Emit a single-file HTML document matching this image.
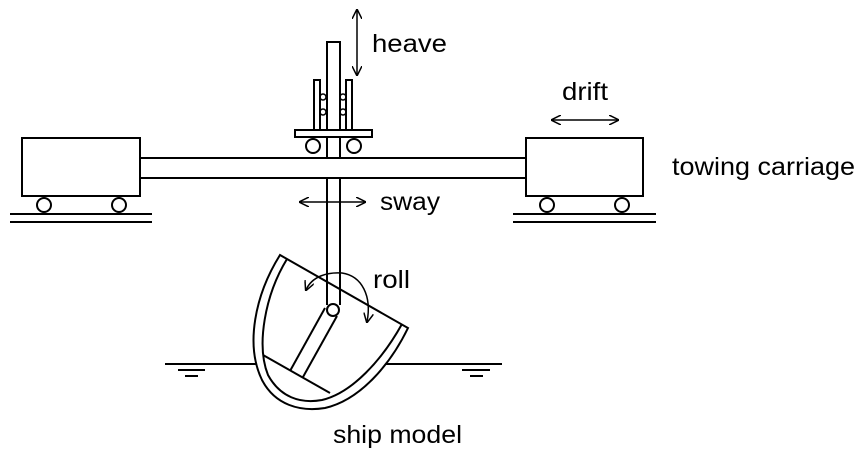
<!DOCTYPE html>
<html><head><style>
html,body{margin:0;padding:0;background:#fff;}
svg{display:block;}
text{font-family:"Liberation Sans",Arial,sans-serif;font-size:25px;fill:#000;}
</style></head><body>
<svg width="866" height="457" viewBox="0 0 866 457" xmlns="http://www.w3.org/2000/svg">
<defs>
<marker id="ah" viewBox="0 0 10 10" refX="9" refY="5" markerWidth="10" markerHeight="10" markerUnits="userSpaceOnUse" orient="auto-start-reverse">
<path d="M0,0 L10,5 L0,10" fill="none" stroke="#000" stroke-width="1.5"/>
</marker>
</defs>
<g fill="none" stroke="#000" stroke-width="2">
<!-- beam -->
<line x1="140" y1="158" x2="527" y2="158"/>
<line x1="140" y1="178" x2="527" y2="178"/>
<!-- left cart -->
<rect x="22" y="138" width="118" height="58" fill="#fff"/>
<circle cx="44" cy="205" r="7"/><circle cx="119" cy="205" r="7"/>
<line x1="10" y1="214" x2="152" y2="214"/><line x1="10" y1="222" x2="152" y2="222"/>
<!-- right cart -->
<rect x="526" y="138" width="117" height="58" fill="#fff"/>
<circle cx="547" cy="205" r="7"/><circle cx="622" cy="205" r="7"/>
<line x1="513" y1="214" x2="656" y2="214"/><line x1="513" y1="222" x2="656" y2="222"/>
<!-- mast upper -->
<rect x="327" y="42" width="13" height="116" fill="#fff"/>
<rect x="314" y="80" width="6" height="50"/>
<rect x="346" y="80" width="6" height="50"/>
<circle cx="323" cy="97" r="3" stroke-width="1.5"/><circle cx="323" cy="112" r="3" stroke-width="1.5"/>
<circle cx="343" cy="97" r="3" stroke-width="1.5"/><circle cx="343" cy="112" r="3" stroke-width="1.5"/>
<rect x="295" y="130" width="77" height="7" fill="#fff"/>
<circle cx="313" cy="146" r="7"/><circle cx="354" cy="146" r="7"/>
<!-- water -->
<line x1="165" y1="364" x2="256" y2="364"/>
<line x1="385" y1="364" x2="502" y2="364"/>
<line x1="178" y1="370" x2="205" y2="370"/><line x1="185" y1="376" x2="198" y2="376"/>
<line x1="462" y1="370" x2="490" y2="370"/><line x1="470" y1="376" x2="483" y2="376"/>
<!-- hull -->
<path d="M280,255 C255,295 245,345 262,380 C275,405 300,412 325,408 C360,400 390,365 408,328 L280,255 Z" fill="#fff"/>
<path d="M287,259 C265,295 256,345 268,375 C280,397 300,404 322,400 C352,393 382,360 402,324"/>
<line x1="263" y1="355" x2="330" y2="393"/>
<line x1="325" y1="308" x2="290" y2="371"/>
<line x1="337" y1="316" x2="303" y2="377"/>
<!-- mast lower -->
<line x1="327" y1="178" x2="327" y2="305"/>
<line x1="340" y1="178" x2="340" y2="305"/>
<circle cx="333" cy="310" r="6" fill="#fff"/>
<!-- arrows -->
<line x1="357" y1="10" x2="357" y2="75" marker-start="url(#ah)" marker-end="url(#ah)" stroke-width="1.5"/>
<line x1="300" y1="202" x2="365" y2="202" marker-start="url(#ah)" marker-end="url(#ah)" stroke-width="1.5"/>
<line x1="552" y1="120" x2="618" y2="120" marker-start="url(#ah)" marker-end="url(#ah)" stroke-width="1.5"/>
<path d="M306,290 C312,276 328,272 342,273 C362,276 372,296 367,322" marker-start="url(#ah)" marker-end="url(#ah)" stroke-width="1.5"/>
</g>
<text x="372" y="52" textLength="75" lengthAdjust="spacingAndGlyphs">heave</text>
<text x="562" y="100" textLength="46" lengthAdjust="spacingAndGlyphs">drift</text>
<text x="672" y="175" textLength="183" lengthAdjust="spacingAndGlyphs">towing carriage</text>
<text x="380" y="210" textLength="60" lengthAdjust="spacingAndGlyphs">sway</text>
<text x="373" y="288" textLength="37" lengthAdjust="spacingAndGlyphs">roll</text>
<text x="333" y="443" textLength="129" lengthAdjust="spacingAndGlyphs">ship model</text>
</svg>
</body></html>
